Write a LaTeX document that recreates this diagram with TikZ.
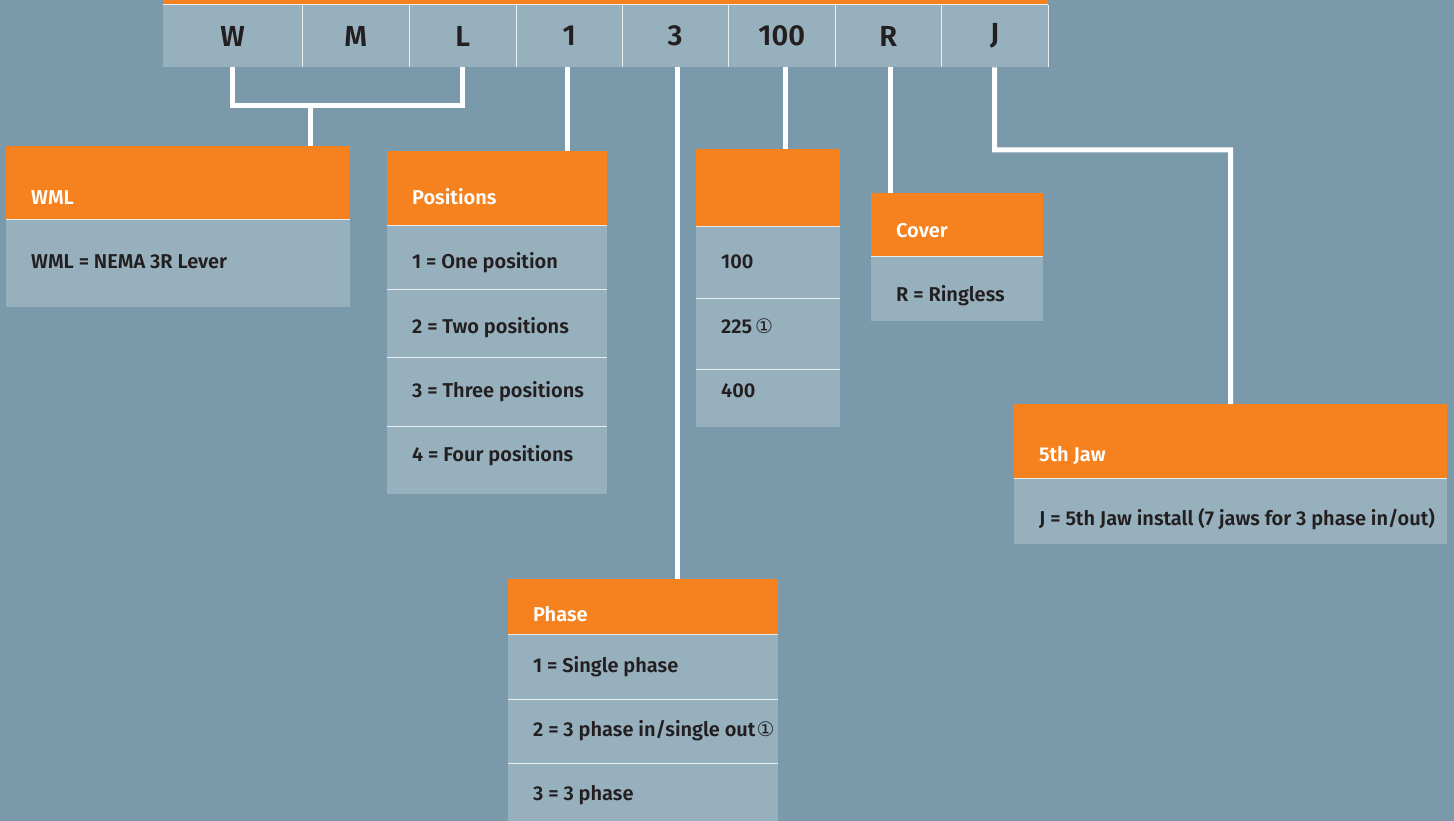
\documentclass[tikz,border=0pt]{standalone}
\usepackage{fontspec}
\setmainfont{Fira Sans}[BoldFont={Fira Sans SemiBold}]
\newfontfamily\symfont{DejaVu Sans}
\usetikzlibrary{calc}
\definecolor{slateback}{RGB}{122,153,170}
\definecolor{slatecell}{RGB}{151,176,189}
\definecolor{siemensorange}{RGB}{245,130,31}
\definecolor{inkdark}{RGB}{35,31,32}
\definecolor{rulelight}{RGB}{232,237,240}

\tikzset{
    cell/.style={fill=slatecell, minimum height=62pt, inner sep=0pt, anchor=north west, text=inkdark, font=\bfseries\fontsize{29}{29}\selectfont},
    hdr/.style={fill=siemensorange, inner sep=0pt, anchor=north west},
    pane/.style={fill=slatecell, inner sep=0pt, anchor=north west},
    head/.style={anchor=base west, inner sep=0pt, text=white, font=\bfseries\fontsize{20}{20}\selectfont},
    entry/.style={anchor=base west, inner sep=0pt, text=inkdark, font=\bfseries\fontsize{20}{20}\selectfont},
    link/.style={draw=white, line width=5pt},
    rule/.style={draw=rulelight, line width=1.5pt}
}
\newcommand{\circone}{{\symfont\mdseries\fontsize{20}{20}\selectfont ①}}

\begin{document}
\begin{tikzpicture}[x=1pt, y=-1pt]
% Background
\fill[slateback] (0,0) rectangle (1454,821);
\useasboundingbox (0,0) rectangle (1454,821);

% Catalogue number bar
\begin{scope}
    \fill[siemensorange] (163,0) rectangle (1048,4); % orange strip on top
    \node[cell, minimum width=139pt] (cW) at (163,5) {W};
    \node[cell, minimum width=107pt] (cM) at (302,5) {M};
    \node[cell, minimum width=107pt] (cL) at (409,5) {L};
    \node[cell, minimum width=106pt] (c1) at (516,5) {1};
    \node[cell, minimum width=106pt] (c3) at (622,5) {3};
    \node[cell, minimum width=107pt] (c100) at (728,5) {100};
    \node[cell, minimum width=106pt] (cR) at (835,5) {R};
    \node[cell, minimum width=107pt] (cJ) at (941,5) {J};
    \draw[rule, line width=1pt] (cW.north west) -- (cJ.north east);
    \foreach \c in {cW,cM,cL,c1,c3,c100,cR,cJ}
        \draw[rule, line width=1pt] (\c.north east) -- (\c.south east);
\end{scope}

% Boxes: orange header with rows below
\node[hdr, minimum width=344pt, minimum height=73pt] (wmlH) at (6,146) {};
\node[pane, minimum width=344pt, minimum height=88pt] (wml1) at (6,219) {};

\node[hdr, minimum width=220pt, minimum height=74pt] (posH) at (387,151) {};
\node[pane, minimum width=220pt, minimum height=64pt] (pos1) at (387,225) {};
\node[pane, minimum width=220pt, minimum height=68pt] (pos2) at (387,289) {};
\node[pane, minimum width=220pt, minimum height=69pt] (pos3) at (387,357) {};
\node[pane, minimum width=220pt, minimum height=68pt] (pos4) at (387,426) {};

\node[hdr, minimum width=144pt, minimum height=77pt] (ampH) at (696,149) {};
\node[pane, minimum width=144pt, minimum height=72pt] (amp1) at (696,226) {};
\node[pane, minimum width=144pt, minimum height=71pt] (amp2) at (696,298) {};
\node[pane, minimum width=144pt, minimum height=58pt] (amp3) at (696,369) {};

\node[hdr, minimum width=172pt, minimum height=63pt] (covH) at (871,193) {};
\node[pane, minimum width=172pt, minimum height=65pt] (cov1) at (871,256) {};

\node[hdr, minimum width=433pt, minimum height=74pt] (jawH) at (1014,404) {};
\node[pane, minimum width=433pt, minimum height=66pt] (jaw1) at (1014,478) {};

\node[hdr, minimum width=270pt, minimum height=55pt] (phH) at (508,579) {};
\node[pane, minimum width=270pt, minimum height=65pt] (ph1) at (508,634) {};
\node[pane, minimum width=270pt, minimum height=64pt] (ph2) at (508,699) {};
\node[pane, minimum width=270pt, minimum height=58pt] (ph3) at (508,763) {};

% White rules between header and rows
\foreach \n in {wmlH,posH,pos1,pos2,pos3,ampH,amp1,amp2,covH,jawH,phH,ph1,ph2}
    \draw[rule] (\n.south west) -- (\n.south east);

% Texts
\node[head] (wmlT) at (31,205) {WML};
\node[entry] (wmlA) at (31,269) {WML = NEMA 3R Lever};

\node[head] (posT) at (412,205) {Positions};
\node[entry] (posA) at (412,269) {1 = One position};
\node[entry] (posB) at (412,333) {2 = Two positions};
\node[entry] (posC) at (412,397) {3 = Three positions};
\node[entry] (posD) at (412,461) {4 = Four positions};

\node[entry] (ampA) at (721,269) {100};
\node[entry] (ampB) at (721,333) {225\kern3pt\circone};
\node[entry] (ampC) at (721,397) {400};

\node[head] (covT) at (896,237) {Cover};
\node[entry] (covA) at (896,301) {R = Ringless};

\node[head] (jawT) at (1039,461) {5th Jaw};
\node[entry] (jawA) at (1039,525) {J = 5th Jaw install (7 jaws for 3 phase in/out)};

\node[head] (phT) at (533,621) {Phase};
\node[entry] (phA) at (533,672) {1 = Single phase};
\node[entry] (phB) at (533,736) {2 = 3 phase in/single out\kern1pt\circone};
\node[entry] (phC) at (533,800) {3 = 3 phase};

% Connectors
\coordinate (wmlJoin) at (310,106);
\coordinate (jawBend) at (1230.5,150);
\draw[link] (cW.south) |- (wmlJoin) -| (cL.south);
\draw[link] (wmlJoin) -- (wmlJoin |- wmlH.north);
\draw[link] ([xshift=-2pt]c1.south) -- ([xshift=-2pt]c1.south |- posH.north);
\draw[link] ([xshift=2pt]c3.south) -- ([xshift=2pt]c3.south |- phH.north);
\draw[link] ([xshift=3.5pt]c100.south) -- ([xshift=3.5pt]c100.south |- ampH.north);
\draw[link] ([xshift=2pt]cR.south) -- ([xshift=2pt]cR.south |- covH.north);
\draw[link] (cJ.south) |- (jawBend) -- (jawH.north);
\end{tikzpicture}
\end{document}
